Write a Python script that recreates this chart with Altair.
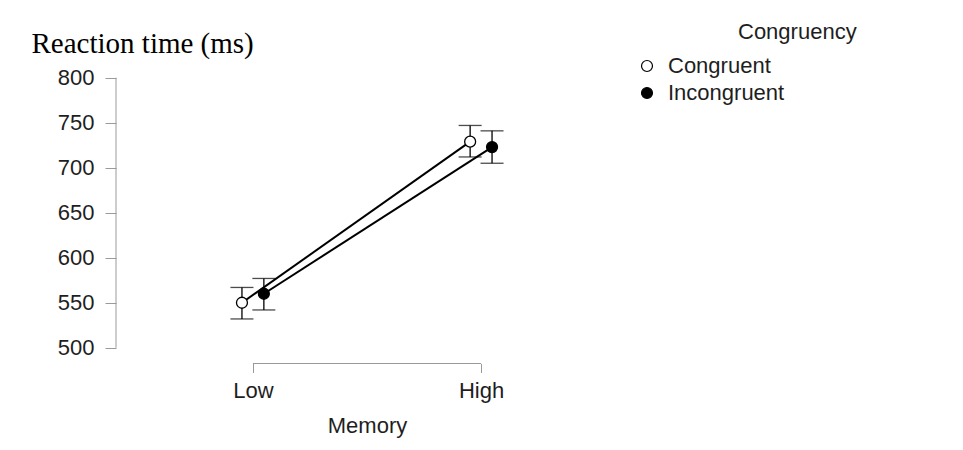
import altair as alt
import pandas as pd

# Cell means and 95% CI bounds of reaction time (ms)
memory_levels = ["Low", "High"]
congruency_levels = ["Congruent", "Incongruent"]
congruent_mean = [550, 729]
congruent_lower = [532, 712]
congruent_upper = [567, 747]
incongruent_mean = [560, 723]
incongruent_lower = [542, 705]
incongruent_upper = [577, 741]
y_ticks = [500, 550, 600, 650, 700, 750, 800]

SANS = "Liberation Sans"
SERIF = "Liberation Serif"
FS = 22
DODGE = 0.048  # horizontal dodge between the two congruency groups

rows = []
for group, means, lows, highs, shift in [
    ("Congruent", congruent_mean, congruent_lower, congruent_upper, -DODGE),
    ("Incongruent", incongruent_mean, incongruent_lower, incongruent_upper, DODGE),
]:
    for i, level in enumerate(memory_levels):
        rows.append({"Memory": level, "Congruency": group, "pos": i + 1 + shift,
                     "rt": means[i], "lo": lows[i], "hi": highs[i]})
df = pd.DataFrame(rows)

W, H = 502, 301.5
x_scale = alt.Scale(domain=[0.4, 2.6], nice=False, zero=False)
y_scale = alt.Scale(domain=[482.5, 817.5], nice=False, zero=False)

label_expr = " : ".join(
    [f"datum.value == {i + 1} ? '{lv}'" for i, lv in enumerate(memory_levels[:-1])]
    + [f"'{memory_levels[-1]}'"]
)

x_axis = alt.Axis(values=[1, 2], labelExpr=label_expr, domain=False, grid=False,
                  ticks=True, tickSize=9, tickColor="#9a9a9a", tickWidth=1,
                  labelFont=SANS, labelFontSize=FS, labelColor="#1e1e1e", labelPadding=8,
                  title="Memory", titleFont=SANS, titleFontSize=FS, titleFontWeight="normal",
                  titleColor="#1e1e1e", titlePadding=14)
y_axis = alt.Axis(values=y_ticks, domain=False, grid=False,
                  ticks=True, tickSize=11, tickColor="#9a9a9a", tickWidth=1,
                  labelFont=SANS, labelFontSize=FS, labelColor="#1e1e1e", labelPadding=11,
                  title="Reaction time (ms)", titleFont=SERIF, titleFontSize=29,
                  titleFontWeight="normal", titleColor="#000000", titleAngle=0,
                  titleAlign="left", titleBaseline="alphabetic", titleX=-85, titleY=-10)

X = alt.X("pos:Q", scale=x_scale, axis=x_axis)
fill = alt.Fill("Congruency:N",
                scale=alt.Scale(domain=congruency_levels, range=["white", "black"]),
                legend=alt.Legend(orient="none", legendX=520, legendY=-7, title=None,
                                  symbolType="circle", symbolSize=120,
                                  symbolStrokeColor="black", symbolStrokeWidth=1.2,
                                  labelFont=SANS, labelFontSize=FS, labelColor="#1e1e1e",
                                  labelOffset=10, rowPadding=5))

base = alt.Chart(df)

lines = base.mark_line(color="black", strokeWidth=2).encode(
    x=X, y=alt.Y("rt:Q", scale=y_scale, axis=y_axis), detail="Congruency:N")

bars = base.mark_rule(color="black", strokeWidth=1.3).encode(
    x=X, y=alt.Y("lo:Q", scale=y_scale, axis=y_axis), y2="hi:Q")

caps_lo = base.mark_tick(color="black", orient="horizontal", size=23, thickness=1.3).encode(
    x=X, y=alt.Y("lo:Q", scale=y_scale, axis=y_axis))
caps_hi = base.mark_tick(color="black", orient="horizontal", size=23, thickness=1.3).encode(
    x=X, y=alt.Y("hi:Q", scale=y_scale, axis=y_axis))

points = base.mark_point(shape="circle", size=120, filled=True, stroke="black",
                         strokeWidth=1.3, opacity=1).encode(
    x=X, y=alt.Y("rt:Q", scale=y_scale, axis=y_axis), fill=fill)

# Axis lines spanning only the tick range (y: 500-800, x: Low-High)
y_line = alt.Chart(pd.DataFrame({"y0": [y_ticks[0]], "y1": [y_ticks[-1]]})).mark_rule(
    color="#9a9a9a", strokeWidth=1).encode(
    x=alt.value(0), y=alt.Y("y0:Q", scale=y_scale, axis=y_axis), y2="y1:Q")
x_line = alt.Chart(pd.DataFrame({"x0": [1], "x1": [len(memory_levels)]})).mark_rule(
    color="#9a9a9a", strokeWidth=1).encode(
    x=alt.X("x0:Q", scale=x_scale, axis=x_axis), x2="x1:Q", y=alt.value(H))

chart = alt.layer(y_line, x_line, lines, bars, caps_lo, caps_hi, points).properties(
    width=W, height=H,
    title=alt.TitleParams("Congruency", anchor="start", frame="group", dx=622, dy=32,
                          offset=0, baseline="alphabetic", font=SANS, fontSize=FS,
                          fontWeight="normal", color="#1e1e1e"),
    autosize=alt.AutoSizeParams(type="none"),
    padding={"left": 116, "top": 62, "right": 963 - 116 - W, "bottom": 450 - 62 - H},
    background="white",
).configure_view(stroke=None)

chart.save("out.html", embed_options={"renderer": "svg", "actions": False})
